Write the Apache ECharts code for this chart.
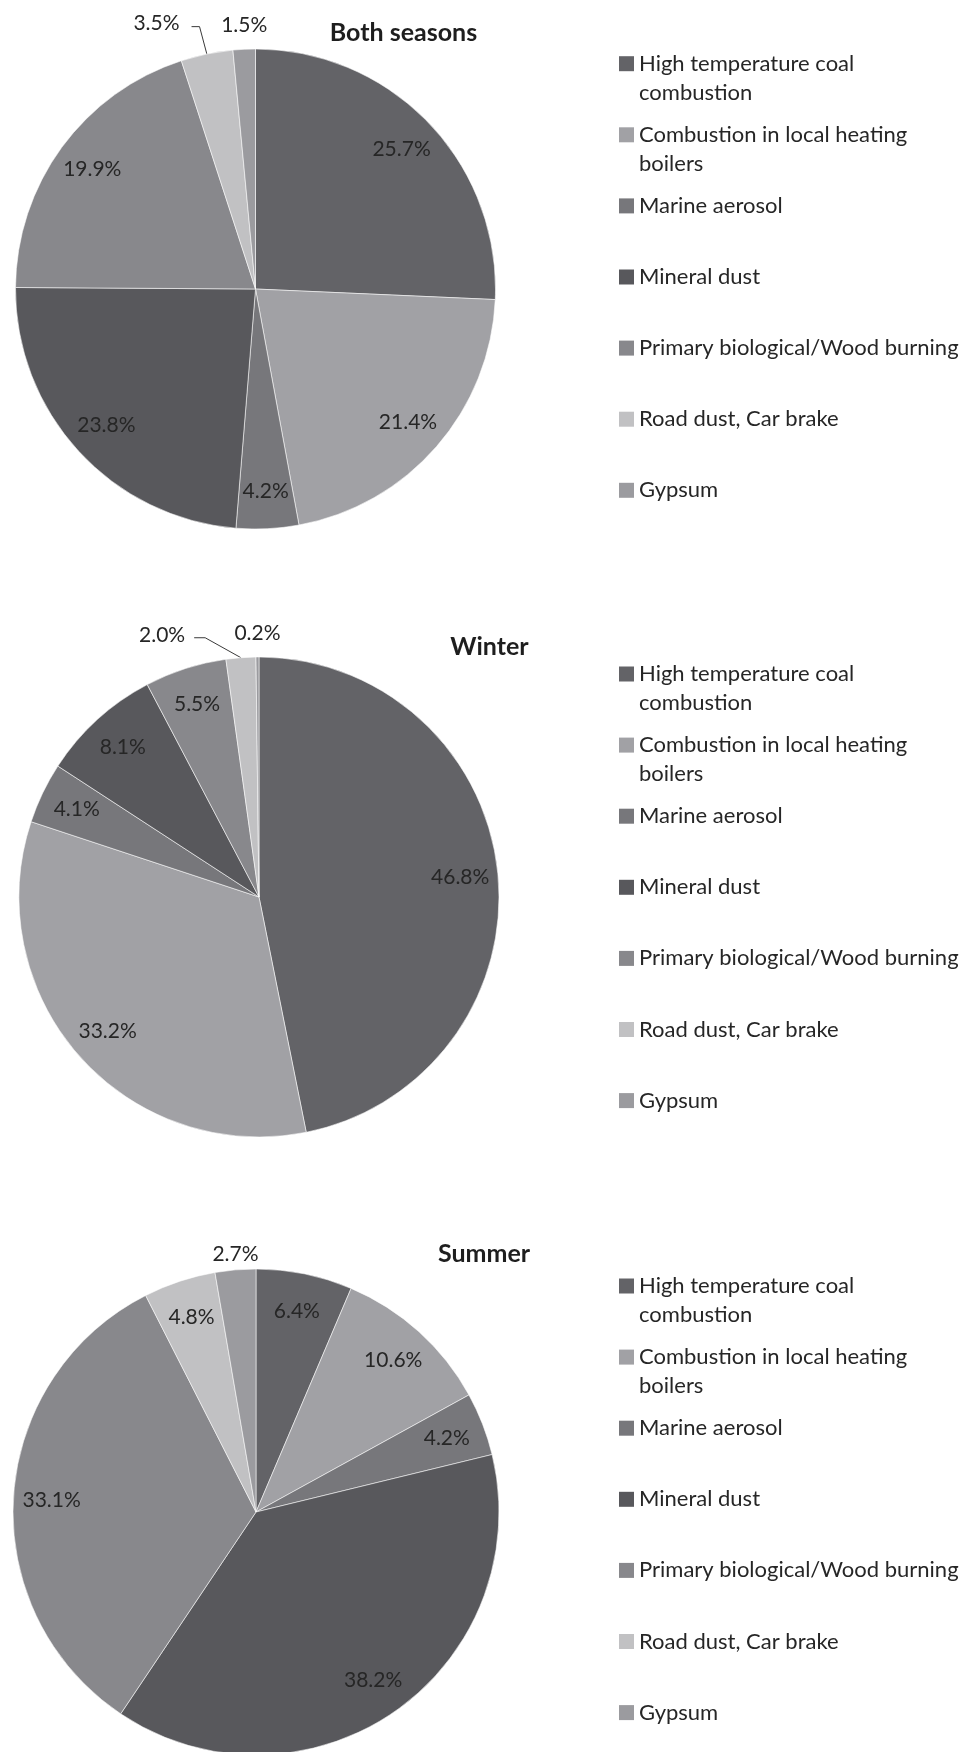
<!DOCTYPE html>
<html>
<head>
<meta charset="utf-8">
<title>PM source contributions by season</title>
<script src="https://cdn.jsdelivr.net/npm/echarts@6/dist/echarts.min.js"></script>
<style>
  html, body { margin: 0; padding: 0; background: #ffffff; }
  #chart { width: 969px; height: 1752px; }
</style>
</head>
<body>
<div id="chart"></div>
<script>
// Source categories (same order in every pie, clockwise from 12 o'clock)
const sources = [
  'High temperature coal combustion',
  'Combustion in local heating boilers',
  'Marine aerosol',
  'Mineral dust',
  'Primary biological/Wood burning',
  'Road dust, Car brake',
  'Gypsum'
];

// Percentage contribution of each source
const bothSeasons = [25.7, 21.4, 4.2, 23.8, 19.9, 3.5, 1.5];
const winter      = [46.8, 33.2, 4.1, 8.1, 5.5, 2.0, 0.2];
const summer      = [6.4, 10.6, 4.2, 38.2, 33.1, 4.8, 2.7];

const panelTitles = ['Both seasons', 'Winter', 'Summer'];

// Grey fill for each source
const sourceColors = ['#636367', '#a1a1a5', '#77777b', '#58585c', '#88888c', '#c1c1c3', '#9b9b9f'];

// Legend text, wrapped where the long names break
const legendText = {
  'High temperature coal combustion': ['High temperature coal', 'combustion'],
  'Combustion in local heating boilers': ['Combustion in local heating', 'boilers']
};

const FONT = 'Lato, "Open Sans", sans-serif';
const TEXT_COLOR = '#262626';

// Layout of the three panels
const panels = [
  { title: panelTitles[0], values: bothSeasons, center: [255.5, 289], r: 240,
    titleAt: [403.5, 33], legendTop: 63.7,
    leader: { 5: { length: 31, length2: 9, dist: 12, gap: 12, run: 8 } }, above: { 6: 24 } },
  { title: panelTitles[1], values: winter, center: [259, 897], r: 240,
    titleAt: [489.5, 647], legendTop: 674,
    leader: { 5: { length: 23, length2: 45, dist: 9, gap: 9, run: 11 } }, above: { 6: 24 } },
  { title: panelTitles[2], values: summer, center: [256, 1512], r: 243,
    titleAt: [484, 1254], legendTop: 1286,
    leader: {}, above: { 6: 15 } }
];

const LEGEND_STEP = 71.1;
const LEGEND_LINE = 29;
const LABEL_RING = 0.66; // inner edge of the label ring, as a share of the radius

const series = [];
const titles = [];
const legends = [];

// Filled pies first, so legend icons take their colours from them
panels.forEach(function (p) {
  series.push({
    type: 'pie',
    center: p.center,
    radius: [0, p.r],
    startAngle: 90,
    clockwise: true,
    avoidLabelOverlap: false,
    silent: true,
    label: { show: false },
    labelLine: { show: false },
    itemStyle: { borderColor: 'rgba(255,255,255,0.55)', borderWidth: 1 },
    emphasis: { disabled: true },
    data: sources.map(function (name, i) {
      return { name: name, value: p.values[i], itemStyle: { color: sourceColors[i] } };
    })
  });
});

// Transparent rings that carry the percentage labels
panels.forEach(function (p) {
  series.push({
    type: 'pie',
    center: p.center,
    radius: [p.r * LABEL_RING, p.r],
    startAngle: 90,
    clockwise: true,
    avoidLabelOverlap: false,
    silent: true,
    itemStyle: { color: 'rgba(0,0,0,0)', borderWidth: 0 },
    emphasis: { disabled: true },
    label: {
      show: true,
      position: 'inside',
      fontFamily: FONT,
      fontSize: 21,
      color: TEXT_COLOR,
      formatter: function (d) { return d.value.toFixed(1) + '%'; }
    },
    labelLine: { show: false },
    labelLayout: function (params) {
      const i = params.dataIndex;
      const gap = p.above[i];
      if (gap != null) {
        // small slice at the top: label centred just above it
        return {
          x: params.rect.x + params.rect.width / 2,
          y: params.rect.y - gap,
          align: 'center',
          verticalAlign: 'middle'
        };
      }
      const ld = p.leader[i];
      if (ld && params.labelLinePoints) {
        // elbow leader: short run beside the label, then straight to the slice edge
        const lr = params.labelRect;
        const y = lr.y + lr.height / 2 + 3;
        const xr = lr.x + lr.width;
        return {
          labelLinePoints: [
            params.labelLinePoints[0],
            [xr + ld.gap + ld.run, y],
            [xr + ld.gap, y]
          ]
        };
      }
    },
    data: sources.map(function (name, i) {
      const item = { name: name, value: p.values[i] };
      const ld = p.leader[i];
      if (ld) {
        item.label = { position: 'outside', distanceToLabelLine: ld.dist };
        item.labelLine = {
          show: true, length: ld.length, length2: ld.length2, smooth: false,
          lineStyle: { color: '#3a3a3a', width: 1 }
        };
      } else if (p.above[i] != null) {
        item.label = { position: 'outside' };
        item.labelLine = { show: false, length: 10, length2: 0 };
      }
      return item;
    })
  });

  titles.push({
    text: p.title,
    left: p.titleAt[0],
    top: p.titleAt[1],
    textAlign: 'center',
    textVerticalAlign: 'middle',
    padding: 0,
    textStyle: { fontFamily: FONT, fontWeight: 'bold', fontSize: 25, color: '#1e1e1e' }
  });

  // One legend entry per source, evenly spaced beside the pie;
  // the swatch sits level with the first text line
  sources.forEach(function (name, i) {
    const lines = legendText[name] || [name];
    const extra = lines.length - 1;
    const firstLineY = p.legendTop + i * LEGEND_STEP;
    legends.push({
      orient: 'vertical',
      left: 619,
      top: firstLineY - LEGEND_LINE / 2 - extra * LEGEND_LINE,
      padding: 0,
      itemGap: 0,
      icon: 'rect',
      itemWidth: 15,
      itemHeight: 15,
      selectedMode: false,
      data: [name],
      itemStyle: { borderWidth: 0 },
      formatter: function () {
        // blank lines above balance the wrapped lines below
        const pad = [];
        for (let k = 0; k < extra; k++) pad.push(' ');
        return pad.concat(lines).join('\n');
      },
      textStyle: {
        fontFamily: FONT,
        fontSize: 22,
        color: TEXT_COLOR,
        lineHeight: LEGEND_LINE,
        backgroundColor: 'rgba(0,0,0,0)'
      }
    });
  });
});

const chart = echarts.init(document.getElementById('chart'), null, { renderer: 'canvas' });
chart.setOption({
  backgroundColor: '#ffffff',
  animation: false,
  title: titles,
  legend: legends,
  series: series
});
</script>
</body>
</html>
